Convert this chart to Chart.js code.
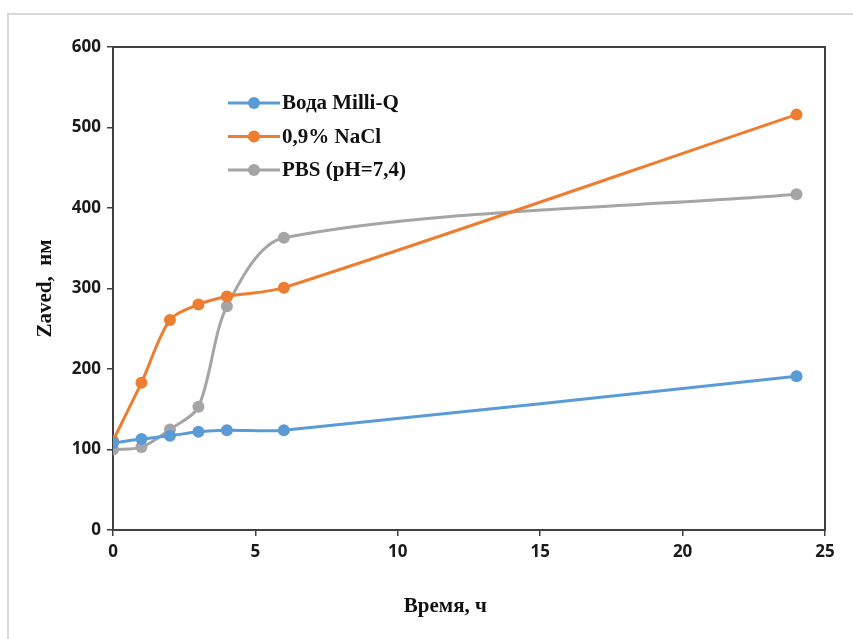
<!DOCTYPE html>
<html>
<head>
<meta charset="utf-8">
<script src="https://cdn.jsdelivr.net/npm/chart.js@4.4.1/dist/chart.umd.min.js"></script>
<style>
    html, body { margin: 0; padding: 0; background: #fff; overflow: hidden; }
    #frame {
        position: absolute; left: 7px; top: 13px;
        width: 900px; height: 700px;
        border: 2px solid #d9d9d9;
    }
    #wrap { position: absolute; left: 0; top: 0; width: 853px; height: 639px; }
</style>
</head>
<body>
<div id="frame"></div>
<div id="wrap"><canvas id="grafico" width="853" height="639"></canvas></div>
<script>
// время, ч
const hours = [0, 1, 2, 3, 4, 6, 24];

const seriesNames = ['Вода Milli-Q', '0,9% NaCl', 'PBS (pH=7,4)'];
const waterValues = [108, 113, 117, 122, 124, 124, 191];
const naclValues = [111, 183, 261, 280, 290, 301, 516];
const pbsValues = [100, 103, 125, 153, 278, 363, 417];

const seriesColors = ['#5b9bd5', '#ed7d31', '#a5a5a5'];

const xTicks = [0, 5, 10, 15, 20, 25];
const yTicks = [0, 100, 200, 300, 400, 500, 600];

const toPoints = vals => hours.map((h, i) => ({ x: h, y: vals[i] }));

function makeDataset(label, values, color) {
    return {
        label: label,
        data: toPoints(values),
        borderColor: color,
        backgroundColor: color,
        borderWidth: 3,
        pointRadius: 6,
        pointHoverRadius: 6,
        pointBorderWidth: 0,
        tension: 0.3,
        fill: false
    };
}

// рамка области построения
const plotFrame = {
    id: 'plotFrame',
    beforeDatasetsDraw(chart) {
        const { ctx, chartArea: a } = chart;
        ctx.save();
        ctx.strokeStyle = '#404040';
        ctx.lineWidth = 2;
        ctx.strokeRect(a.left, a.top, a.right - a.left, a.bottom - a.top);
        ctx.restore();
    }
};

// легенда внутри графика, как в Excel
const innerLegend = {
    id: 'innerLegend',
    afterDraw(chart) {
        const { ctx } = chart;
        const x0 = 228, y0 = 103, step = 33.5;
        ctx.save();
        ctx.font = 'bold 21px "Liberation Serif", "Times New Roman", serif';
        ctx.textBaseline = 'middle';
        chart.data.datasets.forEach((ds, i) => {
            const y = y0 + i * step;
            ctx.strokeStyle = ds.borderColor;
            ctx.lineWidth = 3;
            ctx.beginPath();
            ctx.moveTo(x0, y);
            ctx.lineTo(x0 + 52, y);
            ctx.stroke();
            ctx.fillStyle = ds.borderColor;
            ctx.beginPath();
            ctx.arc(x0 + 26, y, 6, 0, Math.PI * 2);
            ctx.fill();
            ctx.fillStyle = '#111';
            ctx.fillText(ds.label, x0 + 54, y + 1);
        });
        ctx.restore();
    }
};

const tickFont = { family: '"Noto Sans", "Open Sans", sans-serif', size: 17, weight: 'bold' };
const titleFont = { family: '"Liberation Serif", "Times New Roman", serif', size: 21, weight: 'bold' };

new Chart(document.getElementById('grafico').getContext('2d'), {
    type: 'line',
    data: {
        datasets: [
            makeDataset(seriesNames[0], waterValues, seriesColors[0]),
            makeDataset(seriesNames[1], naclValues, seriesColors[1]),
            makeDataset(seriesNames[2], pbsValues, seriesColors[2])
        ]
    },
    plugins: [plotFrame, innerLegend],
    options: {
        responsive: false,
        animation: false,
        layout: { padding: { left: 0, top: 47, right: 28, bottom: 0 } },
        plugins: {
            legend: { display: false },
            tooltip: { enabled: false }
        },
        scales: {
            x: {
                type: 'linear',
                min: 0,
                max: 25,
                afterBuildTicks: s => { s.ticks = xTicks.map(v => ({ value: v })); },
                afterFit: s => { s.height = 109; },
                grid: { display: true, drawOnChartArea: false, drawTicks: true, tickLength: 6, color: '#404040', lineWidth: 1.5 },
                border: { display: true, color: '#404040', width: 2 },
                ticks: { color: '#1a1a1a', font: tickFont, padding: 6, maxRotation: 0 },
                title: { display: true, text: 'Время, ч' + '\u00a0'.repeat(9), color: '#111', font: titleFont, padding: { top: 0, bottom: 20 } }
            },
            y: {
                min: 0,
                max: 600,
                afterBuildTicks: s => { s.ticks = yTicks.map(v => ({ value: v })); },
                afterFit: s => { s.width = 113; },
                grid: { display: true, drawOnChartArea: false, drawTicks: true, tickLength: 6, color: '#404040', lineWidth: 1.5 },
                border: { display: true, color: '#404040', width: 2 },
                ticks: { color: '#1a1a1a', font: tickFont, padding: 6 },
                title: { display: true, text: 'Zaved,  нм', color: '#111', font: titleFont, padding: { top: 33, bottom: 0 } }
            }
        }
    }
});
</script>
</body>
</html>
